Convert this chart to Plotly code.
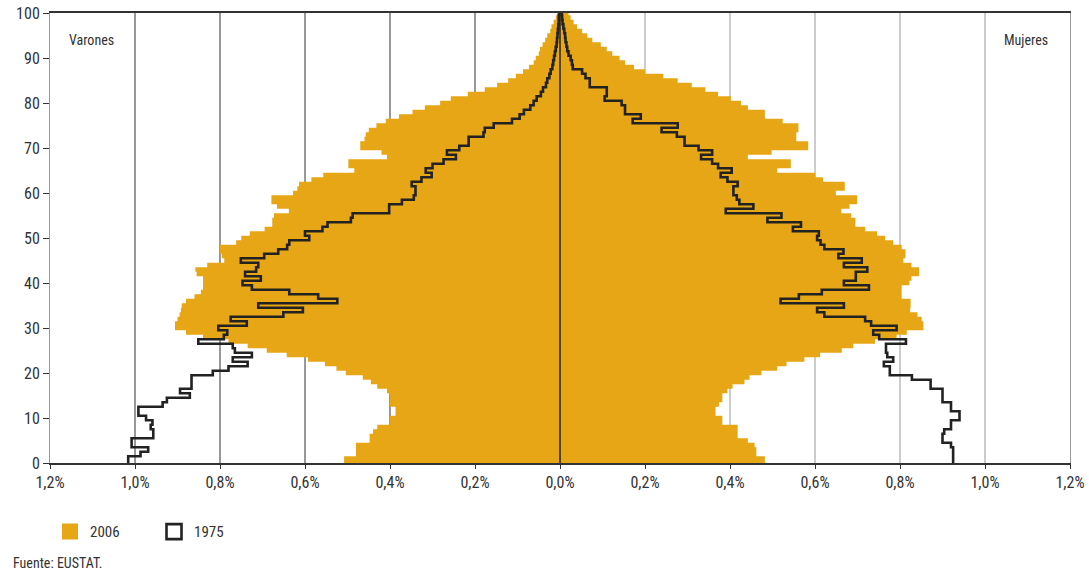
import plotly.graph_objects as go

ages = list(range(101))

male_2006 = [0.508, 0.508, 0.48, 0.48, 0.48, 0.448, 0.448, 0.44, 0.43, 0.40,
             0.40, 0.387, 0.387, 0.40, 0.40, 0.40, 0.407, 0.43, 0.445, 0.464,
             0.504, 0.526, 0.553, 0.593, 0.643, 0.69, 0.735, 0.78, 0.84, 0.88,
             0.906, 0.906, 0.90, 0.895, 0.892, 0.89, 0.88, 0.86, 0.845, 0.84,
             0.84, 0.84, 0.855, 0.858, 0.83, 0.79, 0.796, 0.80, 0.80, 0.762,
             0.75, 0.73, 0.695, 0.677, 0.677, 0.673, 0.638, 0.666, 0.679, 0.679,
             0.628, 0.618, 0.614, 0.585, 0.557, 0.484, 0.498, 0.498, 0.407, 0.42,
             0.47, 0.47, 0.46, 0.457, 0.45, 0.432, 0.41, 0.379, 0.347, 0.318,
             0.282, 0.257, 0.217, 0.177, 0.148, 0.122, 0.104, 0.087, 0.073, 0.062,
             0.057, 0.05, 0.047, 0.041, 0.035, 0.03, 0.023, 0.02, 0.015, 0.01,
             0.006]

female_2006 = [0.482, 0.482, 0.462, 0.462, 0.458, 0.442, 0.418, 0.418, 0.418, 0.382,
               0.382, 0.366, 0.366, 0.374, 0.382, 0.382, 0.394, 0.406, 0.434, 0.446,
               0.474, 0.511, 0.533, 0.575, 0.612, 0.663, 0.69, 0.741, 0.792, 0.816,
               0.855, 0.855, 0.851, 0.841, 0.824, 0.825, 0.825, 0.804, 0.804, 0.804,
               0.822, 0.827, 0.845, 0.845, 0.827, 0.808, 0.813, 0.813, 0.804, 0.784,
               0.765, 0.746, 0.718, 0.695, 0.695, 0.685, 0.662, 0.681, 0.699, 0.699,
               0.649, 0.67, 0.67, 0.619, 0.601, 0.511, 0.543, 0.543, 0.442, 0.498,
               0.584, 0.584, 0.556, 0.556, 0.561, 0.561, 0.524, 0.482, 0.482, 0.442,
               0.426, 0.402, 0.372, 0.342, 0.31, 0.277, 0.243, 0.20, 0.174, 0.153,
               0.14, 0.123, 0.11, 0.096, 0.076, 0.064, 0.052, 0.04, 0.032, 0.025,
               0.02]

male_1975 = [1.016, 1.016, 0.987, 0.969, 1.008, 1.008, 0.957, 0.957, 0.963, 0.959,
             0.974, 0.992, 0.992, 0.935, 0.925, 0.871, 0.894, 0.867, 0.867, 0.867,
             0.817, 0.78, 0.735, 0.77, 0.725, 0.765, 0.77, 0.851, 0.791, 0.783,
             0.804, 0.737, 0.775, 0.651, 0.605, 0.71, 0.524, 0.569, 0.637, 0.725,
             0.747, 0.704, 0.741, 0.715, 0.71, 0.751, 0.696, 0.663, 0.642, 0.637,
             0.59, 0.60, 0.559, 0.547, 0.492, 0.488, 0.402, 0.402, 0.372, 0.344,
             0.34, 0.34, 0.349, 0.326, 0.302, 0.316, 0.30, 0.274, 0.245, 0.266,
             0.237, 0.215, 0.215, 0.18, 0.177, 0.156, 0.113, 0.095, 0.085, 0.07,
             0.062, 0.055, 0.045, 0.04, 0.033, 0.03, 0.025, 0.022, 0.018, 0.016,
             0.014, 0.012, 0.01, 0.008, 0.007, 0.006, 0.005, 0.004, 0.003, 0.003,
             0.002]

female_1975 = [0.925, 0.925, 0.925, 0.925, 0.92, 0.90, 0.90, 0.904, 0.92, 0.92,
               0.94, 0.94, 0.92, 0.92, 0.90, 0.90, 0.90, 0.872, 0.872, 0.828,
               0.776, 0.776, 0.762, 0.784, 0.77, 0.767, 0.767, 0.814, 0.751, 0.737,
               0.792, 0.732, 0.718, 0.622, 0.605, 0.668, 0.519, 0.562, 0.616, 0.727,
               0.668, 0.696, 0.696, 0.723, 0.668, 0.71, 0.655, 0.667, 0.622, 0.613,
               0.605, 0.609, 0.548, 0.567, 0.488, 0.521, 0.39, 0.455, 0.422, 0.416,
               0.408, 0.408, 0.418, 0.394, 0.378, 0.404, 0.372, 0.358, 0.332, 0.358,
               0.326, 0.293, 0.293, 0.275, 0.239, 0.277, 0.171, 0.19, 0.153, 0.153,
               0.145, 0.105, 0.11, 0.11, 0.07, 0.07, 0.06, 0.052, 0.03, 0.028,
               0.025, 0.02, 0.017, 0.015, 0.013, 0.012, 0.01, 0.008, 0.006, 0.005,
               0.004]

x_tickvals = [-1.2, -1.0, -0.8, -0.6, -0.4, -0.2, 0.0, 0.2, 0.4, 0.6, 0.8, 1.0, 1.2]
x_ticktext = ["1,2%", "1,0%", "0,8%", "0,6%", "0,4%", "0,2%", "0,0%",
              "0,2%", "0,4%", "0,6%", "0,8%", "1,0%", "1,2%"]
y_tickvals = list(range(0, 101, 10))

ORANGE = "#E6A615"
BLACK = "#222222"
FONT = "Roboto Condensed, Roboto, Arial, sans-serif"


def step_xy(vals, sign):
    """Steps centred on each age, built from the value list."""
    xs = [sign * v for v in vals] + [sign * vals[-1]]
    ys = [a - 0.5 for a in ages] + [ages[-1] + 0.5]
    return xs, ys


fig = go.Figure()

for vals, sign in ((male_2006, -1), (female_2006, 1)):
    xs, ys = step_xy(vals, sign)
    fig.add_trace(go.Scatter(x=xs, y=ys, mode="lines",
                             line=dict(shape="vh", width=0, color=ORANGE),
                             fill="tozerox", fillcolor=ORANGE,
                             showlegend=False, hoverinfo="skip"))

for vals, sign in ((male_1975, -1), (female_1975, 1)):
    xs, ys = step_xy(vals, sign)
    fig.add_trace(go.Scatter(x=xs, y=ys, mode="lines",
                             line=dict(shape="vh", width=2.6, color=BLACK),
                             showlegend=False, hoverinfo="skip"))

# legend entries
fig.add_trace(go.Scatter(x=[None], y=[None], mode="markers", name="2006",
                         marker=dict(symbol="square", size=16, color=ORANGE)))
fig.add_trace(go.Scatter(x=[None], y=[None], mode="markers", name="1975",
                         marker=dict(symbol="square-open", size=15, color=BLACK,
                                     line=dict(width=2.6, color=BLACK))))

# vertical grid lines (darker on left, lighter on right)
for t in x_tickvals:
    if t == 0.0 or abs(t) == 1.2:
        continue
    fig.add_shape(type="line", xref="x", yref="y domain", x0=t, x1=t, y0=0, y1=1,
                  line=dict(color="#333333" if t < 0 else "#999999", width=1),
                  layer="below")
# centre line above the fill
fig.add_shape(type="line", xref="x", yref="y domain", x0=0, x1=0, y0=0, y1=1,
              line=dict(color="#222222", width=1.5), layer="above")

fig.add_annotation(text="Varones", xref="paper", yref="paper", x=0.017, y=0.94,
                   xanchor="left", yanchor="middle", showarrow=False,
                   font=dict(family=FONT, size=14, color="#333333"))
fig.add_annotation(text="Mujeres", xref="paper", yref="paper", x=0.98, y=0.94,
                   xanchor="right", yanchor="middle", showarrow=False,
                   font=dict(family=FONT, size=14, color="#333333"))
fig.add_annotation(text="Fuente: EUSTAT.", xref="paper", yref="paper", x=-0.038, y=-0.222,
                   xanchor="left", yanchor="middle", showarrow=False,
                   font=dict(family=FONT, size=14, color="#333333"))

fig.update_layout(
    width=1089, height=573,
    margin=dict(l=50, r=19, t=13, b=110, autoexpand=False),
    paper_bgcolor="white", plot_bgcolor="white",
    font=dict(family=FONT, size=14, color="#333333"),
    showlegend=True,
    legend=dict(orientation="h", x=0.0, xanchor="left", y=-0.153, yanchor="middle",
                font=dict(family=FONT, size=15, color="#333333"),
                entrywidth=59, entrywidthmode="pixels",
                bgcolor="rgba(0,0,0,0)"),
    xaxis=dict(range=[-1.2, 1.2], tickvals=x_tickvals, ticktext=x_ticktext,
               automargin=False,
               showgrid=False, zeroline=False, showline=True, linecolor="#333333",
               linewidth=1.5, mirror=True, ticks="outside", ticklen=4,
               tickcolor="#333333", tickfont=dict(family=FONT, size=16, color="#333333")),
    yaxis=dict(range=[0, 100], tickvals=y_tickvals, showgrid=False, zeroline=False,
               automargin=False,
               showline=True, linecolor="#999999", linewidth=1, mirror=True,
               ticks="outside", ticklen=6, tickcolor="#333333",
               tickfont=dict(family=FONT, size=16, color="#333333")),
)

fig.write_html("out.html",
               config={"displayModeBar": False},
               post_script="document.body.style.margin='0px';document.body.style.overflow='hidden';")
